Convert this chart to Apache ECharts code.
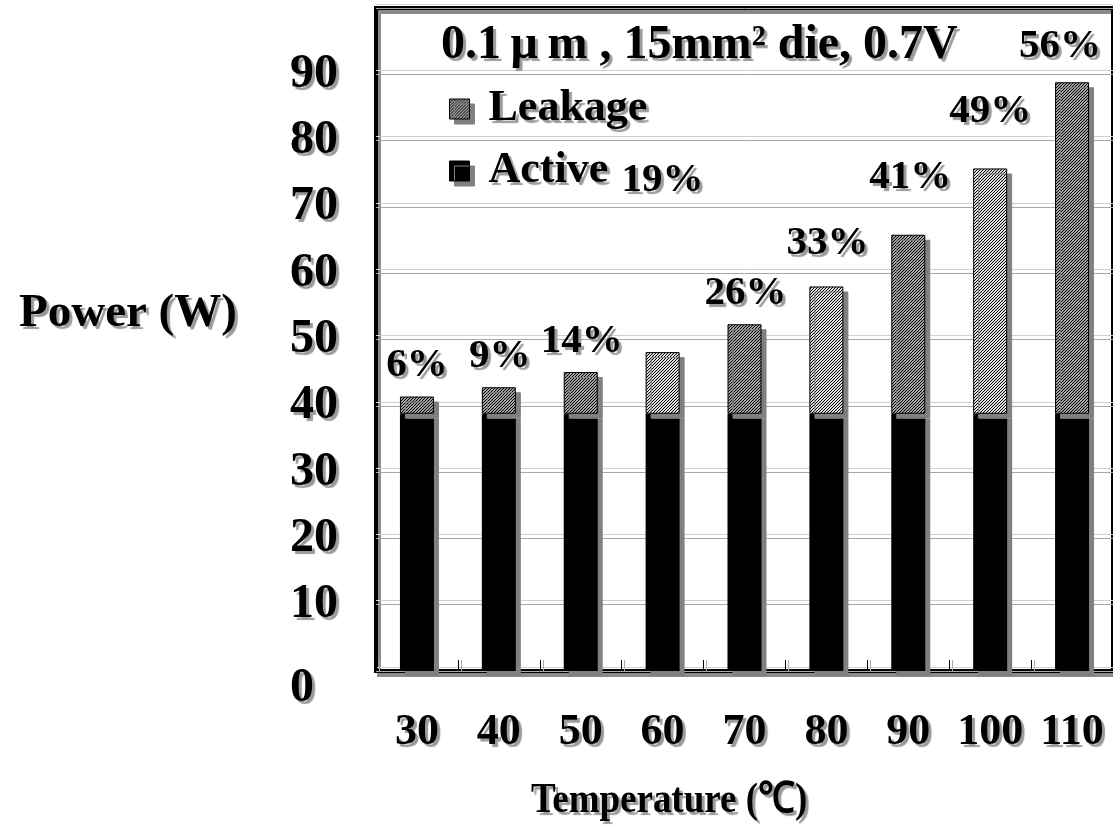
<!DOCTYPE html>
<html>
<head>
<meta charset="utf-8">
<script src="https://cdn.jsdelivr.net/npm/echarts@6/dist/echarts.min.js"></script>
<style>
  html, body { margin: 0; padding: 0; background: #fff; }
  #chart { width: 1113px; height: 832px; }
</style>
</head>
<body>
<div id="chart"></div>
<script>
// Power of a 0.1 µm, 15 mm² die at 0.7 V versus junction temperature
const temperatures = ['30', '40', '50', '60', '70', '80', '90', '100', '110'];
const activePower = [38.8, 38.8, 38.8, 38.8, 38.8, 38.8, 38.8, 38.8, 38.8];
const leakagePower = [2.6, 4.0, 6.3, 9.3, 13.5, 19.2, 27.0, 37.0, 50.0];
const powerTicks = { min: 0, max: 100, step: 10 };

// Styling: which leakage bars use the light hatch, and label nudges in px
const lightHatch = [false, false, false, true, false, true, false, true, false];
const shareLabelNudge = [[0, -1], [1, 0], [1, 0], [0, -141], [1, 0], [1, -13], [2, -27], [0, -27], [-12, -5]];

const FONT = "'Liberation Serif', 'Times New Roman', serif";
const SHADOW = { textShadowColor: '#9a9a9a', textShadowOffsetX: 3, textShadowOffsetY: 3, textShadowBlur: 1 };

// Fine diagonal hatch tiles
function hatch(base, ink) {
  const c = document.createElement('canvas');
  c.width = 6; c.height = 6;
  const g = c.getContext('2d');
  g.fillStyle = base; g.fillRect(0, 0, 6, 6);
  g.fillStyle = ink;
  for (let i = 0; i < 6; i++) for (let j = 0; j < 6; j++) if ((i + j) % 3 === 0) g.fillRect(i, j, 1, 1);
  return c;
}
const darkFill = { image: hatch('#a0a0a0', '#000000'), repeat: 'repeat' };
const lightFill = { image: hatch('#dedede', '#000000'), repeat: 'repeat' };

const leakageShare = leakagePower.map((v, i) => Math.round(v / (v + activePower[i]) * 100) + '%');

const chart = echarts.init(document.getElementById('chart'));
chart.setOption({
  animation: false,
  backgroundColor: '#ffffff',
  textStyle: { fontFamily: FONT },
  title: [
    {
      text: '0.1\u2009\u03bc\u2009m , 15mm\u00b2 die, 0.7V',
      left: 436, top: 17,
      textStyle: Object.assign({ fontSize: 48, fontWeight: 'bold', fontFamily: FONT, color: '#000' }, SHADOW)
    },
    {
      text: 'Power (W)',
      left: 14, top: 285,
      textStyle: Object.assign({ fontSize: 47, fontWeight: 'bold', fontFamily: FONT, color: '#000' }, SHADOW)
    }
  ],
  graphic: [
    {
      type: 'text',
      x: 531, y: 779,
      scaleX: 0.86,
      style: Object.assign({
        text: 'Temperature (\u2103)',
        font: "bold 43px 'Liberation Serif', 'Times New Roman', serif",
        fill: '#000'
      }, SHADOW)
    }
  ],
  legend: {
    orient: 'vertical',
    left: 444, top: 77,
    itemWidth: 20, itemHeight: 20,
    itemGap: 8,
    icon: 'rect',
    data: ['Leakage', 'Active'],
    itemStyle: { borderColor: '#000', borderWidth: 1, shadowColor: '#808080', shadowOffsetX: 5, shadowOffsetY: 5, shadowBlur: 0 },
    textStyle: Object.assign({ fontSize: 44, lineHeight: 44, fontWeight: 'bold', fontFamily: FONT, color: '#000', padding: [0, 0, 10, 14] }, SHADOW)
  },
  grid: {
    left: 376, top: 8, width: 740, height: 663,
    show: true,
    borderColor: '#000', borderWidth: 4,
    backgroundColor: 'transparent',
    shadowColor: '#8a8a8a', shadowOffsetX: 3, shadowOffsetY: 4, shadowBlur: 0
  },
  xAxis: {
    type: 'category',
    data: temperatures,
    axisLine: { show: false },
    axisTick: { show: true, inside: true, interval: 0, length: 11, lineStyle: { color: '#000', width: 1, shadowColor: '#aaa', shadowOffsetX: 3, shadowOffsetY: 0 } },
    axisLabel: Object.assign({ interval: 0, margin: 40, fontSize: 44, fontWeight: 'bold', fontFamily: FONT, color: '#000' }, SHADOW),
    splitLine: { show: false }
  },
  yAxis: {
    type: 'value',
    min: powerTicks.min, max: powerTicks.max, interval: powerTicks.step,
    axisLine: { show: false },
    axisTick: { show: false },
    axisLabel: Object.assign({
      margin: 86, align: 'left', fontSize: 48, fontWeight: 'bold', fontFamily: FONT, color: '#000',
      showMaxLabel: false,
      formatter: v => (v === powerTicks.min ? '{z|' + v + '}' : String(v)),
      rich: { z: Object.assign({ fontSize: 48, fontWeight: 'bold', fontFamily: FONT, color: '#000', padding: [36, 0, 0, 0] }, SHADOW) }
    }, SHADOW),
    splitLine: { show: true, lineStyle: { color: '#a8a8a8', width: 1, shadowColor: '#d0d0d0', shadowOffsetY: -4, shadowBlur: 0 } }
  },
  series: [
    {
      name: 'Active',
      type: 'bar',
      stack: 'power',
      barWidth: 34,
      data: activePower,
      itemStyle: { color: '#000', shadowColor: '#808080', shadowOffsetX: 5, shadowOffsetY: 5, shadowBlur: 0 }
    },
    {
      name: 'Leakage',
      type: 'bar',
      stack: 'power',
      barWidth: 34,
      itemStyle: { color: darkFill, borderColor: '#000', borderWidth: 1, shadowColor: '#808080', shadowOffsetX: 5, shadowOffsetY: 5, shadowBlur: 0 },
      data: leakagePower.map((v, i) => ({
        value: v,
        itemStyle: { color: lightHatch[i] ? lightFill : darkFill },
        label: { offset: shareLabelNudge[i] }
      })),
      label: Object.assign({
        show: true, position: 'top', distance: 10,
        formatter: p => leakageShare[p.dataIndex],
        fontSize: 41, fontWeight: 'bold', fontFamily: FONT, color: '#000'
      }, SHADOW)
    }
  ]
});
</script>
</body>
</html>
